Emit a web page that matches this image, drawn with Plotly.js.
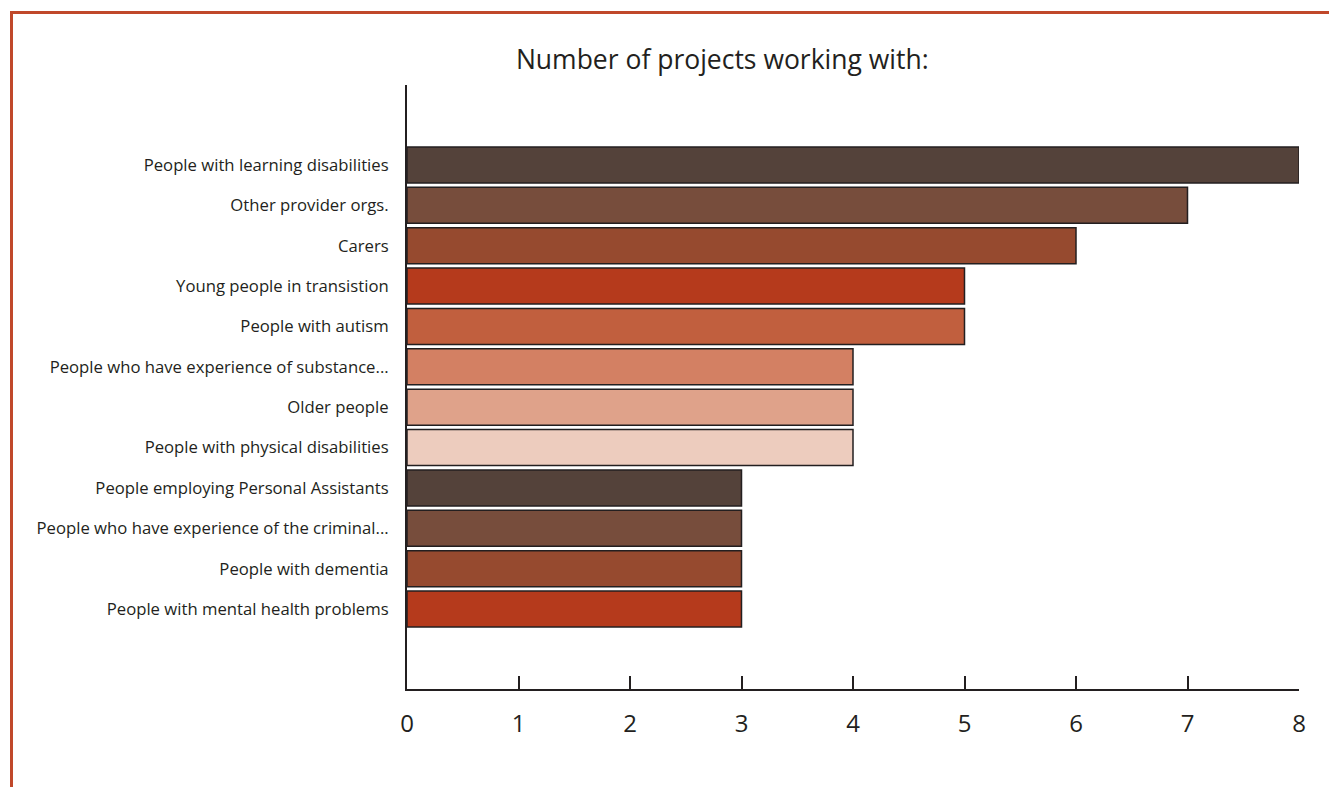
<!DOCTYPE html>
<html>
<head>
<meta charset="utf-8">
<script src="https://cdn.plot.ly/plotly-3.0.1.min.js"></script>
<style>
  html, body { margin: 0; padding: 0; background: #ffffff; }
  #wrap { position: relative; width: 1329px; height: 787px; overflow: hidden; }
  #chart { position: absolute; left: 0; top: 0; width: 1329px; height: 787px; }
  #frame { position: absolute; left: 10px; top: 11px; width: 1400px; height: 900px;
           border-top: 3px solid #c0482a; border-left: 3px solid #c0482a; pointer-events: none; }
</style>
</head>
<body>
<div id="wrap">
  <div id="chart"></div>
  <div id="frame"></div>
</div>
<script>
const categories = [
  "People with learning disabilities",
  "Other provider orgs.",
  "Carers",
  "Young people in transistion",
  "People with autism",
  "People who have experience of substance...",
  "Older people",
  "People with physical disabilities",
  "People employing Personal Assistants",
  "People who have experience of the criminal...",
  "People with dementia",
  "People with mental health problems"
];
const projectCounts = [8, 7, 6, 5, 5, 4, 4, 4, 3, 3, 3, 3];
const barColors = [
  "#54423a", "#774d3c", "#964a2f", "#b53a1c", "#c15f3e", "#d38063",
  "#dfa28a", "#edccbe", "#54423a", "#774d3c", "#964a2f", "#b53a1c"
];
const xTickValues = [0, 1, 2, 3, 4, 5, 6, 7, 8];
const chartTitle = "Number of projects working with:";

const FONT = "Open Sans, Noto Sans, sans-serif";

const trace = {
  type: "bar",
  orientation: "h",
  y: categories,
  x: projectCounts,
  marker: { color: barColors, line: { color: "#231f20", width: 1.5 } },
  hoverinfo: "x+y"
};

const layout = {
  width: 1329,
  height: 787,
  margin: { l: 407, r: 30, t: 85, b: 98 },
  paper_bgcolor: "#ffffff",
  plot_bgcolor: "#ffffff",
  showlegend: false,
  bargap: 0.11,
  font: { family: FONT, color: "#231f20" },
  title: {
    text: chartTitle,
    font: { family: FONT, size: 26.5, color: "#231f20" },
    x: 0.5435, xanchor: "center", xref: "container",
    y: 0.924, yanchor: "middle", yref: "container"
  },
  xaxis: {
    range: [0, 8],
    tickvals: xTickValues,
    ticktext: xTickValues.map(String),
    ticks: "inside",
    ticklen: 13,
    tickwidth: 2,
    tickcolor: "#231f20",
    showline: true,
    linecolor: "#231f20",
    linewidth: 2,
    showgrid: false,
    zeroline: false,
    ticklabelstandoff: 12,
    tickfont: { family: FONT, size: 24, color: "#231f20" },
    fixedrange: true
  },
  yaxis: {
    type: "category",
    range: [12.98, -1.98],
    showline: true,
    linecolor: "#231f20",
    linewidth: 2,
    showgrid: false,
    zeroline: false,
    ticks: "",
    ticklabelstandoff: 13,
    tickfont: { family: FONT, size: 16.7, color: "#231f20" },
    fixedrange: true
  }
};

Plotly.newPlot("chart", [trace], layout, { displayModeBar: false });
</script>
</body>
</html>
